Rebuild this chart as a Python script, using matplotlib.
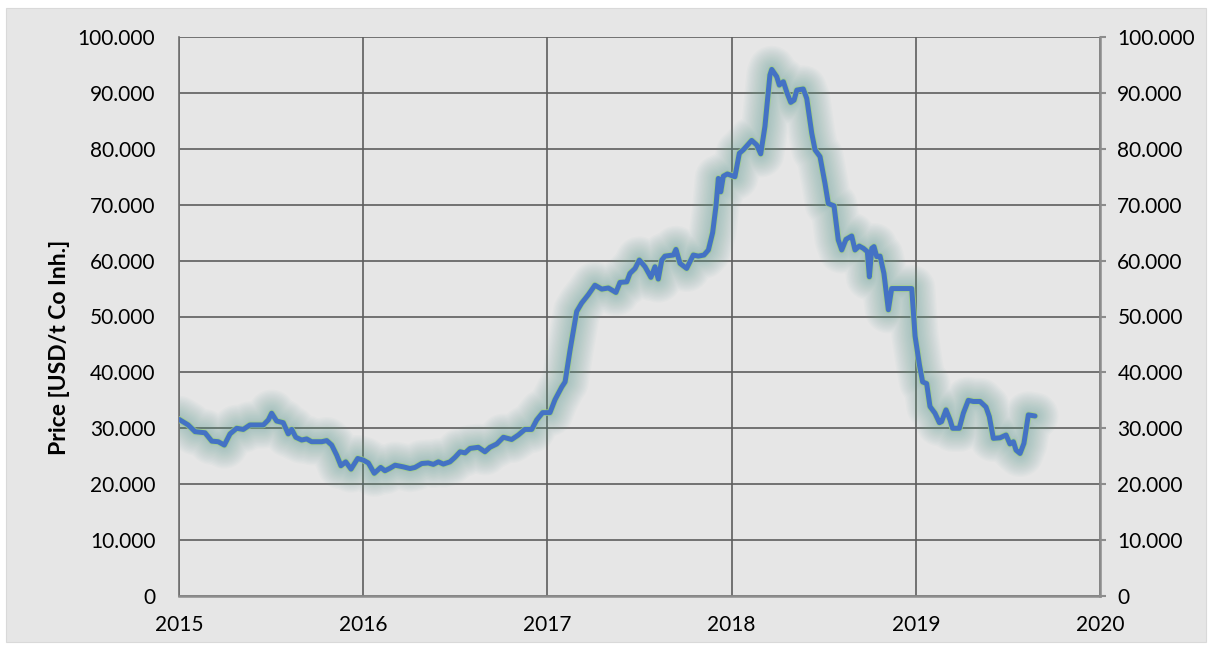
import matplotlib.pyplot as plt
from matplotlib.patches import Rectangle
from matplotlib.ticker import FuncFormatter, MultipleLocator

# Cobalt price (USD/t Co Inh.), x given as decimal years since 2015-01-01
years = [
    2015.000, 2015.050, 2015.087, 2015.141, 2015.178, 2015.213, 2015.246, 2015.277,
    2015.313, 2015.349, 2015.385, 2015.458, 2015.485, 2015.503, 2015.530, 2015.566,
    2015.593, 2015.612, 2015.634, 2015.666, 2015.693, 2015.720, 2015.775, 2015.802,
    2015.829, 2015.856, 2015.879, 2015.905, 2015.934, 2015.970, 2016.001, 2016.028,
    2016.060, 2016.095, 2016.118, 2016.145, 2016.173, 2016.218, 2016.254, 2016.281,
    2016.318, 2016.353, 2016.381, 2016.408, 2016.435, 2016.471, 2016.498, 2016.526,
    2016.553, 2016.580, 2016.625, 2016.661, 2016.688, 2016.725, 2016.761, 2016.806,
    2016.842, 2016.878, 2016.915, 2016.942, 2016.974, 2017.014, 2017.041, 2017.078,
    2017.096, 2017.123, 2017.159, 2017.186, 2017.222, 2017.258, 2017.295, 2017.331,
    2017.372, 2017.394, 2017.431, 2017.448, 2017.476, 2017.499, 2017.530, 2017.562,
    2017.584, 2017.602, 2017.621, 2017.638, 2017.684, 2017.698, 2017.720, 2017.756,
    2017.792, 2017.819, 2017.850, 2017.874, 2017.897, 2017.915, 2017.928, 2017.941,
    2017.955, 2017.977, 2018.018, 2018.042, 2018.063, 2018.109, 2018.136, 2018.158,
    2018.181, 2018.208, 2018.218, 2018.245, 2018.259, 2018.281, 2018.302, 2018.321,
    2018.339, 2018.354, 2018.389, 2018.408, 2018.435, 2018.453, 2018.480, 2018.507,
    2018.525, 2018.556, 2018.579, 2018.598, 2018.621, 2018.652, 2018.670, 2018.693,
    2018.715, 2018.737, 2018.748, 2018.761, 2018.773, 2018.788, 2018.806, 2018.827,
    2018.851, 2018.869, 2018.978, 2018.996, 2019.020, 2019.037, 2019.059, 2019.077,
    2019.104, 2019.128, 2019.140, 2019.164, 2019.186, 2019.200, 2019.236, 2019.258,
    2019.285, 2019.312, 2019.349, 2019.381, 2019.399, 2019.421, 2019.457, 2019.490,
    2019.511, 2019.530, 2019.544, 2019.566, 2019.587, 2019.611, 2019.647,
]
prices = [
    31600, 30600, 29400, 29200, 27700, 27600, 27000, 29000,
    30000, 29800, 30600, 30600, 31500, 32700, 31300, 31000,
    29000, 29800, 28400, 27900, 28100, 27600, 27600, 27800,
    27000, 25200, 23300, 24000, 22700, 24600, 24300, 23800,
    21950, 23000, 22400, 22850, 23400, 23100, 22800, 23000,
    23700, 23800, 23550, 24000, 23600, 24000, 24800, 25800,
    25600, 26400, 26600, 25800, 26600, 27200, 28400, 28000,
    28800, 29800, 29800, 31500, 32800, 32800, 35100, 37400,
    38300, 44000, 50900, 52400, 53900, 55600, 54900, 55100,
    54300, 56100, 56200, 57700, 58600, 60100, 58900, 57000,
    58900, 56700, 60100, 60800, 61000, 62000, 59500, 58600,
    61000, 60800, 61000, 61900, 65000, 69700, 74700, 72300,
    75100, 75500, 75000, 79200, 79800, 81500, 80700, 79100,
    84000, 93200, 94200, 92900, 91400, 92000, 89900, 88300,
    88700, 90500, 90700, 89000, 82800, 79800, 78600, 73800,
    70200, 69800, 63700, 61900, 63800, 64400, 61900, 62600,
    62200, 61600, 57100, 62200, 62500, 60700, 60800, 57700,
    51200, 55000, 55000, 46500, 41300, 38300, 38000, 33900,
    32700, 31000, 31200, 33300, 31500, 30000, 30000, 32700,
    35000, 34800, 34800, 33800, 32100, 28200, 28300, 28800,
    27200, 27600, 26100, 25500, 27300, 32400, 32200,
]
x_ticks = [2015, 2016, 2017, 2018, 2019, 2020]
y_label = 'Price [USD/t Co Inh.]'

plt.rcParams['font.family'] = ['Lato', 'DejaVu Sans']


def german_thousands(v, pos):
    # 100000 -> "100.000"
    return f'{v:,.0f}'.replace(',', '.')


fig = plt.figure(figsize=(12.13, 6.5), dpi=100, facecolor='white')

# grey chart area with a thin white frame around it
fig.patches.append(Rectangle((6 / 1213, 8 / 650), 1200 / 1213, 634 / 650,
                             transform=fig.transFigure, facecolor='#e6e6e6',
                             edgecolor='#d9d9d9', linewidth=0.8, zorder=-10))

ax = fig.add_axes([179 / 1213, 54 / 650, 921 / 1213, 559 / 650])
ax.set_facecolor('#e6e6e6')

# soft teal glow under the line: many thin-alpha passes for a smooth fade
for lw in range(34, 5, -2):
    ax.plot(years, prices, color='#5a9a90', linewidth=lw, alpha=0.03,
            solid_joinstyle='round', solid_capstyle='round', zorder=2)
ax.plot(years, prices, color='#9fd080', linewidth=4.8, alpha=0.8,
        solid_joinstyle='round', solid_capstyle='round', zorder=3)
ax.plot(years, prices, color='#4472c4', linewidth=3.6,
        solid_joinstyle='round', solid_capstyle='round', zorder=4)

ax.set_xlim(2015, 2020)
ax.set_ylim(0, 100000)
ax.set_xticks(x_ticks)
ax.set_xticklabels([str(t) for t in x_ticks])
ax.yaxis.set_major_locator(MultipleLocator(10000))
ax.yaxis.set_major_formatter(FuncFormatter(german_thousands))

ax.grid(True, color='#5e5e5e', linewidth=1.2, zorder=1)
ax.set_axisbelow(True)
ax.tick_params(axis='both', length=0, labelsize=15, colors='black')
ax.tick_params(axis='y', pad=17)
ax.tick_params(axis='x', pad=14)

for side in ['top', 'right']:
    ax.spines[side].set_visible(False)
ax.spines['left'].set_color('#707070')
ax.spines['left'].set_linewidth(1.2)
ax.spines['bottom'].set_color('#8c8c8c')
ax.spines['bottom'].set_linewidth(1.8)

ax.set_ylabel(y_label, fontsize=16.5, fontweight='bold')
ax.yaxis.set_label_coords(-0.118, 0.444)

# mirrored axis on the right
ax2 = ax.twinx()
ax2.set_ylim(ax.get_ylim())
ax2.yaxis.set_major_locator(MultipleLocator(10000))
ax2.yaxis.set_major_formatter(FuncFormatter(german_thousands))
ax2.tick_params(axis='y', direction='out', length=4.5, width=1.5, color='#8c8c8c',
                labelsize=15, pad=8)
for side in ['top', 'left', 'bottom']:
    ax2.spines[side].set_visible(False)
ax2.spines['right'].set_color('#8c8c8c')
ax2.spines['right'].set_linewidth(1.8)

fig.savefig('out.png', dpi=100, facecolor='white')
